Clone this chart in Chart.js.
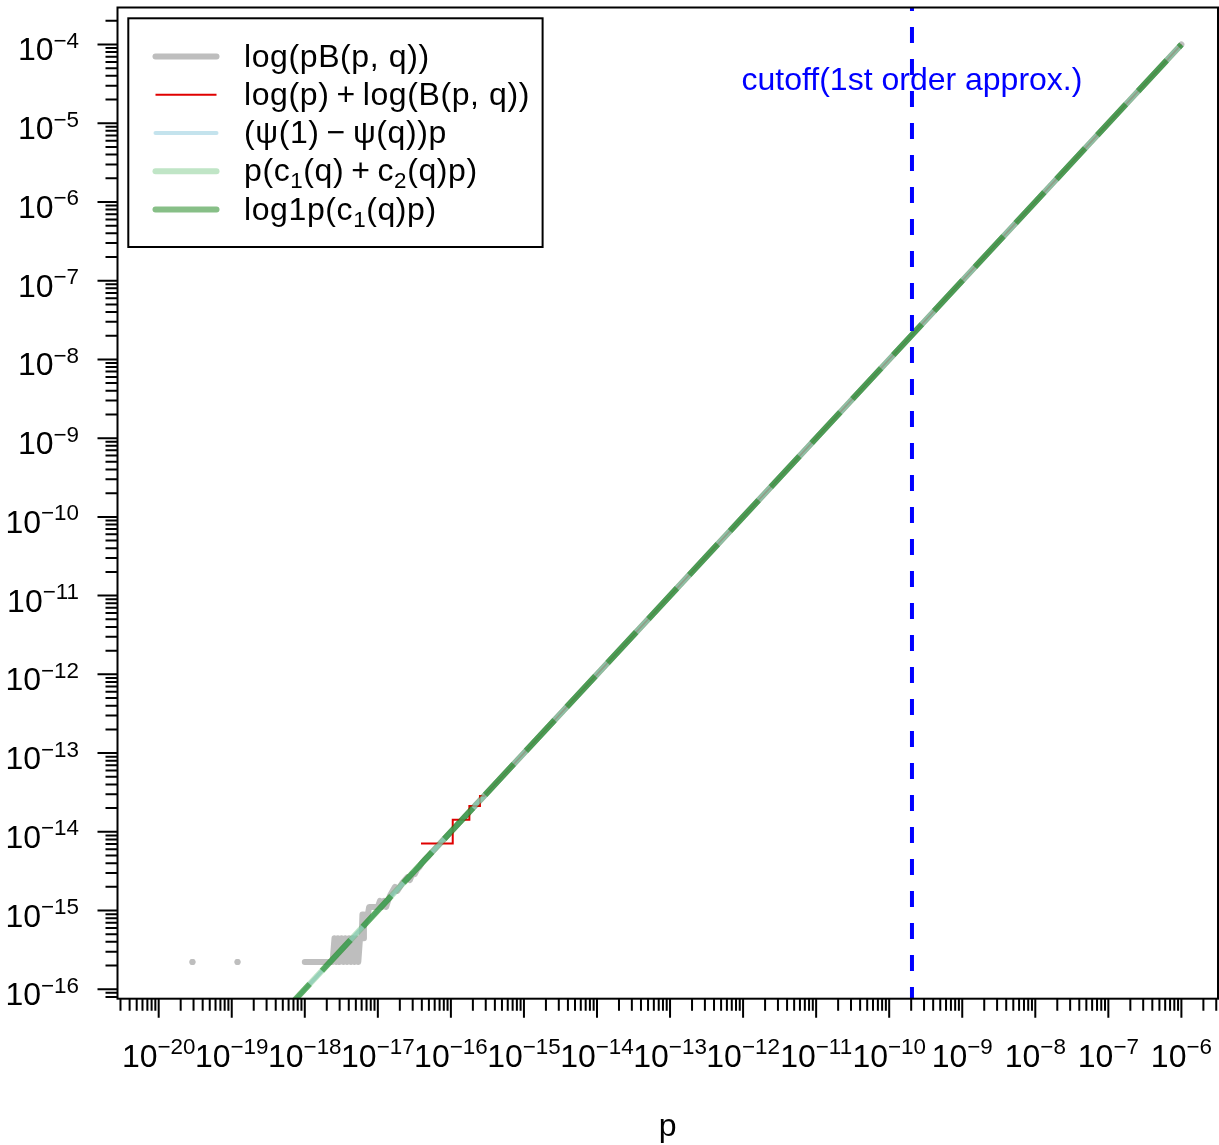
<!DOCTYPE html>
<html><head><meta charset="utf-8">
<script src="https://cdn.jsdelivr.net/npm/chart.js@4.4.1/dist/chart.umd.min.js"></script>
<style>html,body{margin:0;padding:0;background:#fff;}canvas{display:block;}</style>
</head><body>
<canvas id="c" width="1219" height="1145"></canvas>
<script>
// ---------------- data ----------------
const xTickExponents = [-20,-19,-18,-17,-16,-15,-14,-13,-12,-11,-10,-9,-8,-7,-6];
const yTickExponents = [-16,-15,-14,-13,-12,-11,-10,-9,-8,-7,-6,-5,-4];
const minorMantissas = [2,3,4,5,6,7,8,9];
const xLimits = [2.73e-21, 3.17e-6];
const yLimits = [7.59e-17, 2.95e-4];

// log(pB(p,q)) : quantised to multiples of machine eps at small p
const grayP = [2.9e-20, 5.0e-20, 1.2e-19, 2.0e-19, 1.0e-18, 1.6e-18, 2.4e-18, 2.55e-18, 2.7e-18, 2.85e-18,
  3.0e-18, 3.2e-18, 3.4e-18, 3.6e-18, 3.8e-18, 4.05e-18, 4.3e-18, 4.55e-18, 4.8e-18, 5.1e-18,
  5.4e-18, 5.7e-18, 6.0e-18, 6.15e-18, 6.3e-18, 6.45e-18, 6.6e-18, 7.3e-18, 7.6e-18, 8.6e-18,
  1.0e-17, 1.07e-17, 1.14e-17, 1.22e-17, 1.3e-17, 1.38e-17, 1.47e-17, 1.6e-17, 1.72e-17, 1.85e-17,
  2.0e-17, 2.15e-17, 2.35e-17, 2.55e-17, 2.75e-17, 2.95e-17, 3.2e-17, 3.45e-17, 3.7e-17, 4.0e-17,
  4.4e-17, 5.0e-17, 1e-16, 1e-14, 1e-12, 1e-10, 1e-8, 1e-6];
const grayVals = [2.22e-16, null, 2.22e-16, null, 2.22e-16, 2.22e-16, 2.22e-16, 4.44e-16, 2.22e-16, 4.44e-16,
  2.22e-16, 4.44e-16, 2.22e-16, 4.44e-16, 2.22e-16, 4.44e-16, 2.22e-16, 4.44e-16, 2.22e-16, 4.44e-16,
  2.22e-16, 4.44e-16, 4.44e-16, 8.88e-16, 4.44e-16, 8.88e-16, 6.66e-16, 8.88e-16, 1.11e-15, 1.11e-15,
  1.11e-15, 1.33e-15, 1.11e-15, 1.33e-15, 1.11e-15, 1.33e-15, 1.55e-15, 1.78e-15, 2.0e-15, 1.78e-15,
  2.0e-15, 2.22e-15, 2.44e-15, 2.66e-15, 2.44e-15, 2.89e-15, 2.89e-15, 3.33e-15, 3.55e-15, 4.0e-15,
  4.44e-15, 5.0e-15, 1e-14, 1e-12, 1e-10, 1e-8, 1e-6, 1e-4];

// log(p) + log(B(p,q)) : steps of ~7.1e-15
const redP = [3.9e-17, 1.06e-16, 1.06e-16, 1.79e-16, 1.79e-16, 2.5e-16, 2.5e-16, 2.84e-16, 1e-15, 1e-13, 1e-11, 1e-9, 1e-7, 1e-6];
const redVals = [7.1e-15, 7.1e-15, 1.42e-14, 1.42e-14, 2.13e-14, 2.13e-14, 2.84e-14, 2.84e-14, 1e-13, 1e-11, 1e-9, 1e-7, 1e-5, 1e-4];

// approximations (straight lines in log-log)
const lineP = [1e-20, 1e-18, 1e-16, 1e-14, 1e-12, 1e-10, 1e-8, 1e-6];
const psiVals = [1e-18, 1e-16, 1e-14, 1e-12, 1e-10, 1e-8, 1e-6, 1e-4];
const quadVals = [1e-18, 1e-16, 1e-14, 1e-12, 1e-10, 1e-8, 1e-6, 1e-4];
const log1pVals = [1e-18, 1e-16, 1e-14, 1e-12, 1e-10, 1e-8, 1e-6, 1e-4];

const cutoffP = 2.05e-10;
const cutoffLabel = 'cutoff(1st order approx.)';
const xTitle = 'p';

// legend text pieces: [text, kind] kind = undefined | 'sub'
const legendTexts = [
  [['log(pB(p, q))']],
  [['log(p)'], ['\u2009+\u2009'], ['log(B(p, q))']],
  [['(\u03C8(1)'], ['\u2009\u2212\u2009'], ['\u03C8(q))p']],
  [['p(c'], ['1','sub'], ['(q)'], ['\u2009+\u2009'], ['c'], ['2','sub'], ['(q)p)']],
  [['log1p(c'], ['1','sub'], ['(q)p)']]
];

// ---------------- helpers ----------------
const FAM = '"Liberation Sans", Arial, Helvetica, sans-serif';
const font = px => px + 'px ' + FAM;
const pts = (xs, ys) => xs.map((x, i) => ({x: x, y: ys[i]}));

function makeTicks(exps, min, max) {
  const out = [];
  for (let e = exps[0] - 1; e <= exps[exps.length - 1]; e++) {
    [1].concat(minorMantissas).forEach(m => {
      const v = m * Math.pow(10, e);
      if (v >= min * 0.999999 && v <= max * 1.000001) out.push({value: v, major: m === 1});
    });
  }
  return out;
}

function drawRich(ctx, segs, x, y, size, align, spacing) {
  let w = 0;
  ctx.letterSpacing = (spacing || 0) + 'px';
  const parts = segs.map(([t, kind]) => {
    const s = kind ? size * 0.7 : size;
    ctx.font = font(s);
    const m = ctx.measureText(t).width;
    w += m;
    return {t, kind, s, m};
  });
  let cx = align === 'center' ? x - w / 2 : align === 'right' ? x - w : x;
  ctx.textAlign = 'left';
  ctx.textBaseline = 'alphabetic';
  parts.forEach(p => {
    ctx.font = font(p.s);
    const dy = p.kind === 'sup' ? -size * 0.39 : p.kind === 'sub' ? size * 0.22 : 0;
    ctx.fillText(p.t, cx, y + dy);
    cx += p.m;
  });
  ctx.letterSpacing = '0px';
}

const isolatedRadius = ctx => {
  const d = ctx.dataset.data, i = ctx.dataIndex;
  if (!d[i] || d[i].y == null) return 0;
  const prev = d[i - 1], next = d[i + 1];
  return ((!prev || prev.y == null) && (!next || next.y == null)) ? 3 : 0;
};

const datasets = [
  {label: 'log(pB(p, q))', data: pts(grayP, grayVals), borderColor: '#BEBEBE', backgroundColor: '#BEBEBE',
   borderWidth: 6, borderCapStyle: 'round', borderJoinStyle: 'round', pointRadius: isolatedRadius,
   pointBackgroundColor: '#BEBEBE', pointBorderWidth: 0, order: 6},
  {label: 'log(p) + log(B(p, q))', data: pts(redP, redVals), borderColor: '#E00000',
   borderWidth: 2, borderJoinStyle: 'miter', pointRadius: 0, order: 5},
  {label: '(\u03C8(1) \u2212 \u03C8(q))p', data: pts(lineP, psiVals), borderColor: 'rgba(173,216,230,0.72)',
   borderWidth: 4, pointRadius: 0, order: 4},
  {label: 'p(c1(q) + c2(q)p)', data: pts(lineP, quadVals), borderColor: 'rgba(48,168,65,0.3)',
   borderWidth: 6, pointRadius: 0, order: 3},
  {label: 'log1p(c1(q)p)', data: pts(lineP, log1pVals), borderColor: 'rgba(0,120,0,0.47)',
   borderWidth: 6, borderDash: [42, 18], borderCapStyle: 'butt', pointRadius: 0, order: 2},
  {label: 'cutoff', data: [{x: cutoffP, y: yLimits[1]}, {x: cutoffP, y: yLimits[0]}], borderColor: '#0000FF',
   borderWidth: 4, borderDash: [16, 16], borderDashOffset: 12.5, borderCapStyle: 'butt', pointRadius: 0, order: 1}
];

const rPlot = {
  id: 'rplot',
  beforeDraw(chart) {
    const c = chart.ctx;
    c.save(); c.fillStyle = '#fff'; c.fillRect(0, 0, chart.width, chart.height); c.restore();
  },
  afterDraw(chart) {
    const c = chart.ctx, a = chart.chartArea, xs = chart.scales.x, ys = chart.scales.y;
    c.save();
    c.strokeStyle = '#000'; c.lineWidth = 2; c.lineCap = 'butt';
    c.strokeRect(a.left, a.top, a.right - a.left, a.bottom - a.top);
    // ticks
    c.beginPath();
    xs.ticks.forEach(t => {
      const px = xs.getPixelForValue(t.value);
      if (px < a.left - 0.5 || px > a.right + 0.5) return;
      c.moveTo(px, a.bottom); c.lineTo(px, a.bottom + (t.major ? 19 : 12));
    });
    ys.ticks.forEach(t => {
      const py = ys.getPixelForValue(t.value);
      if (py < a.top - 0.5 || py > a.bottom + 0.5) return;
      c.moveTo(a.left, py); c.lineTo(a.left - (t.major ? 20 : 12), py);
    });
    c.stroke();
    // tick labels
    c.fillStyle = '#000';
    xTickExponents.forEach(e => {
      const px = xs.getPixelForValue(Math.pow(10, e));
      drawRich(c, [['10'], ['\u2212' + Math.abs(e), 'sup']], px, a.bottom + 68, 32, 'center');
    });
    yTickExponents.forEach(e => {
      const py = ys.getPixelForValue(Math.pow(10, e));
      drawRich(c, [['10'], ['\u2212' + Math.abs(e), 'sup']], a.left - 38.5, py + 16, 32, 'right');
    });
    // axis title
    c.font = font(32); c.textAlign = 'center'; c.textBaseline = 'alphabetic';
    c.fillText(xTitle, (a.left + a.right) / 2, a.bottom + 137);
    // cutoff label
    c.fillStyle = '#0000FF';
    c.fillText(cutoffLabel, xs.getPixelForValue(cutoffP), 90);
    // legend
    const lx = 128.3, ly = 18.3, lw = 414.3, lh = 228.7;
    c.fillStyle = '#fff'; c.fillRect(lx, ly, lw, lh);
    c.strokeStyle = '#000'; c.lineWidth = 2; c.strokeRect(lx, ly, lw, lh);
    const ds = chart.data.datasets;
    for (let i = 0; i < 5; i++) {
      const yy = 56.6 + i * 38.25;
      c.strokeStyle = ds[i].borderColor; c.lineWidth = ds[i].borderWidth;
      c.lineCap = i === 1 ? 'butt' : 'round'; c.setLineDash([]);
      c.beginPath(); c.moveTo(155.5, yy); c.lineTo(216.5, yy); c.stroke();
      c.fillStyle = '#000';
      drawRich(c, legendTexts[i], 244, yy + 10, 32, 'left', 0.6);
    }
    c.restore();
  }
};

new Chart(document.getElementById('c'), {
  type: 'line',
  data: {datasets},
  plugins: [rPlot],
  options: {
    responsive: false, animation: false, devicePixelRatio: 1, events: [],
    layout: {padding: {left: 117.5, top: 7.5, right: 1, bottom: 146.3}, autoPadding: false},
    plugins: {legend: {display: false}, tooltip: {enabled: false}, title: {display: false}},
    elements: {line: {tension: 0, fill: false}, point: {hoverRadius: 0}},
    spanGaps: false,
    scales: {
      x: {type: 'logarithmic', min: xLimits[0], max: xLimits[1], bounds: 'data',
          grid: {display: false, drawTicks: false}, border: {display: false}, ticks: {display: false},
          afterBuildTicks: s => { s.ticks = makeTicks(xTickExponents, s.min, s.max); }},
      y: {type: 'logarithmic', min: yLimits[0], max: yLimits[1], bounds: 'data',
          grid: {display: false, drawTicks: false}, border: {display: false}, ticks: {display: false},
          afterBuildTicks: s => { s.ticks = makeTicks(yTickExponents, s.min, s.max); }}
    }
  }
});
</script>
</body></html>
